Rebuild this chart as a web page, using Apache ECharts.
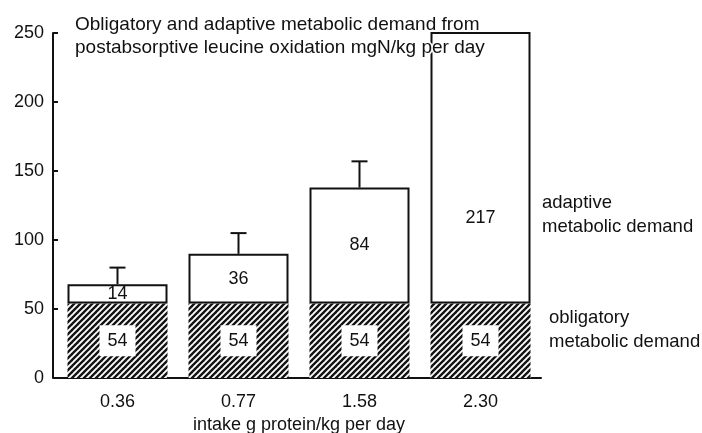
<!DOCTYPE html>
<html>
<head>
<meta charset="utf-8">
<script src="https://cdn.jsdelivr.net/npm/echarts@6/dist/echarts.min.js"></script>
<style>
  html, body { margin: 0; padding: 0; background: #fff; }
  #chart { width: 702px; height: 433px; }
</style>
</head>
<body>
<div id="chart"></div>
<script>
// Protein intake groups (g protein/kg per day)
const intakeLabels = ['0.36', '0.77', '1.58', '2.30'];
// Obligatory metabolic demand, mgN/kg per day
const obligatory = [54, 54, 54, 54];
// Adaptive metabolic demand, mgN/kg per day
const adaptive = [14, 36, 84, 217];
// Upper error bar on the total demand
const totalSd = [12, 15, 19, 32];
// Value axis ticks
const yTicks = [0, 50, 100, 150, 200, 250];

const FONT = '"Liberation Sans", Arial, Helvetica, sans-serif';
const INK = '#111111';

// Diagonal hatch tile for the obligatory part of each bar
function hatchTile() {
  const s = 6;
  const c = document.createElement('canvas');
  c.width = s; c.height = s;
  const g = c.getContext('2d');
  g.fillStyle = '#ffffff';
  g.fillRect(0, 0, s, s);
  g.strokeStyle = '#141414';
  g.lineWidth = 2.4;
  g.lineCap = 'square';
  for (let k = -1; k <= 1; k++) {
    g.beginPath();
    g.moveTo(k * s - 1, s + 1);
    g.lineTo(k * s + s + 1, -1);
    g.stroke();
  }
  return c;
}

const totals = obligatory.map((v, i) => v + adaptive[i]);
const whiskerData = totals.map((t, i) => [i, t, totalSd[i]]);

const chart = echarts.init(document.getElementById('chart'), null, { renderer: 'canvas' });

chart.setOption({
  animation: false,
  backgroundColor: '#ffffff',
  textStyle: { fontFamily: FONT, color: INK },
  title: {
    text: 'Obligatory and adaptive metabolic demand from\npostabsorptive leucine oxidation mgN/kg per day',
    left: 70,
    top: 8,
    z: 20,
    textStyle: {
      fontFamily: FONT, fontSize: 19, fontWeight: 'normal', color: INK, lineHeight: 23,
      textBorderColor: '#ffffff', textBorderWidth: 3
    }
  },
  grid: { left: 57, top: 33, width: 484, height: 345, containLabel: false, outerBoundsMode: 'none' },
  xAxis: {
    type: 'category',
    data: intakeLabels,
    axisLine: { show: true, lineStyle: { color: INK, width: 2 } },
    axisTick: { show: false },
    axisLabel: { fontFamily: FONT, fontSize: 18, color: INK, margin: 15 },
    name: 'intake g protein/kg per day',
    nameLocation: 'middle',
    nameGap: 38,
    nameTextStyle: { fontFamily: FONT, fontSize: 18, color: INK }
  },
  yAxis: {
    type: 'value',
    min: yTicks[0],
    max: yTicks[yTicks.length - 1],
    interval: yTicks[1] - yTicks[0],
    offset: 4,
    axisLine: { show: true, lineStyle: { color: INK, width: 2 } },
    axisTick: { show: true, inside: true, length: 5, lineStyle: { color: INK, width: 2 } },
    axisLabel: { fontFamily: FONT, fontSize: 18, color: INK, margin: 9 },
    splitLine: { show: false }
  },
  graphic: [
    {
      type: 'text', left: 542, top: 191, z: 10,
      style: { text: 'adaptive\nmetabolic demand', font: '18.5px ' + FONT, fill: INK, lineHeight: 24 }
    },
    {
      type: 'text', left: 549, top: 306, z: 10,
      style: { text: 'obligatory\nmetabolic demand', font: '18.5px ' + FONT, fill: INK, lineHeight: 24 }
    }
  ],
  series: [
    {
      name: 'obligatory metabolic demand',
      type: 'bar',
      stack: 'demand',
      barWidth: 100,
      data: obligatory,
      itemStyle: { color: { image: hatchTile(), repeat: 'repeat' } },
      label: {
        show: true,
        position: 'inside',
        fontFamily: FONT,
        fontSize: 18,
        color: INK,
        backgroundColor: '#ffffff',
        padding: [7, 8, 6, 8]
      }
    },
    {
      name: 'adaptive metabolic demand',
      type: 'bar',
      stack: 'demand',
      barWidth: 100,
      clip: true,
      data: adaptive.map((v, i) => {
        const item = { value: v };
        if (obligatory[i] + v > yTicks[yTicks.length - 1]) {
          item.label = { position: 'insideBottom', distance: 76 };
        }
        return item;
      }),
      itemStyle: { color: '#ffffff', borderColor: INK, borderWidth: 2 },
      label: {
        show: true,
        position: 'inside',
        fontFamily: FONT,
        fontSize: 18,
        color: INK
      }
    },
    {
      name: 'sd',
      type: 'custom',
      clip: true,
      data: whiskerData,
      renderItem: function (params, api) {
        const x = api.value(0);
        const top = api.coord([x, api.value(1)]);
        const end = api.coord([x, api.value(1) + api.value(2)]);
        const cap = 8;
        const st = { stroke: INK, lineWidth: 2, fill: null };
        return {
          type: 'group',
          children: [
            { type: 'line', shape: { x1: top[0], y1: top[1], x2: end[0], y2: end[1] }, style: st },
            { type: 'line', shape: { x1: end[0] - cap, y1: end[1], x2: end[0] + cap, y2: end[1] }, style: st }
          ]
        };
      },
      z: 3
    }
  ]
});
</script>
</body>
</html>
